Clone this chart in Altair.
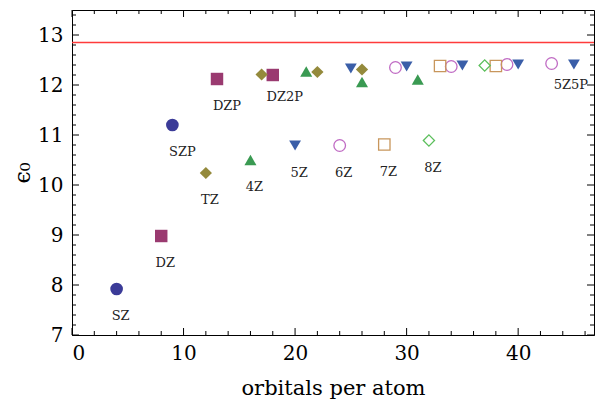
import altair as alt
import pandas as pd

# ---- data ----
family = ["SZ", "SZ",
          "DZ", "DZ", "DZ",
          "TZ", "TZ", "TZ", "TZ",
          "4Z", "4Z", "4Z", "4Z",
          "5Z", "5Z", "5Z", "5Z", "5Z", "5Z",
          "6Z", "6Z", "6Z", "6Z", "6Z",
          "7Z", "7Z", "7Z",
          "8Z", "8Z"]
orbitals = [4, 9,
            8, 13, 18,
            12, 17, 22, 26,
            16, 21, 26, 31,
            20, 25, 30, 35, 40, 45,
            24, 29, 34, 39, 43,
            28, 33, 38,
            32, 37]
eps0 = [7.92, 11.20,
        8.98, 12.12, 12.20,
        10.24, 12.21, 12.26, 12.31,
        10.50, 12.27, 12.06, 12.11,
        10.79, 12.33, 12.37, 12.39, 12.41, 12.41,
        10.79, 12.35, 12.37, 12.41, 12.43,
        10.81, 12.38, 12.38,
        10.89, 12.39]
labels = ["SZ", "SZP",
          "DZ", "DZP", "DZ2P",
          "TZ", "", "", "",
          "4Z", "", "", "",
          "5Z", "", "", "", "", "5Z5P",
          "6Z", "", "", "", "",
          "7Z", "", "",
          "8Z", ""]

families = ["SZ", "DZ", "TZ", "4Z", "5Z", "6Z", "7Z", "8Z"]
fam_colors = ["#3b3b98", "#9a3a70", "#948a3c", "#3a9a52",
              "#3a5ea8", "#c06cc4", "#c8965c", "#5cbf5c"]
fam_shapes = ["circle", "square", "diamond", "triangle-up",
              "triangle-down", "circle", "square", "diamond"]
fam_sizes = [160, 125, 140, 120, 120, 150, 120, 100]
open_families = ["6Z", "7Z", "8Z"]

reference_eps = 12.85

x_major = [0, 10, 20, 30, 40]
x_minor = [2, 4, 6, 8, 12, 14, 16, 18, 22, 24, 26, 28, 32, 34, 36, 38, 42, 44, 46]
y_major = [7, 8, 9, 10, 11, 12, 13]
y_minor = [7.2, 7.4, 7.6, 7.8, 8.2, 8.4, 8.6, 8.8, 9.2, 9.4, 9.6, 9.8,
           10.2, 10.4, 10.6, 10.8, 11.2, 11.4, 11.6, 11.8, 12.2, 12.4,
           12.6, 12.8, 13.2, 13.4]

W, H = 522, 325
FONT = "DejaVu Serif"

df = pd.DataFrame({"family": family, "orbitals": orbitals, "eps": eps0, "label": labels})

xs = alt.Scale(domain=[0, 46.8], nice=False, zero=False)
ys = alt.Scale(domain=[7, 13.5], nice=False, zero=False)
color_scale = alt.Scale(domain=families, range=fam_colors)
shape_scale = alt.Scale(domain=families, range=fam_shapes)
size_scale = alt.Scale(domain=families, range=fam_sizes)

x_axis = alt.Axis(values=x_major, ticks=False, grid=False, labelFontSize=20,
                  labelFont=FONT, labelPadding=8, titleFont=FONT, titleFontSize=21,
                  titleFontWeight="normal", titlePadding=14, labelColor="black",
                  titleColor="black", domainColor="black", format="d")
y_axis = alt.Axis(values=y_major, ticks=False, grid=False, labelFontSize=20,
                  labelFont=FONT, labelPadding=9, titleFont=FONT, titleFontSize=22,
                  titleFontWeight="normal", titlePadding=3, labelColor="black",
                  titleColor="black", domainColor="black", format="d")

base = alt.Chart(df)

filled = base.transform_filter(
    ~alt.FieldOneOfPredicate(field="family", oneOf=open_families)
).mark_point(filled=True, opacity=1).encode(
    x=alt.X("orbitals:Q", scale=xs, axis=x_axis, title="orbitals per atom"),
    y=alt.Y("eps:Q", scale=ys, axis=y_axis, title="ϵ₀"),
    color=alt.Color("family:N", scale=color_scale, legend=None),
    shape=alt.Shape("family:N", scale=shape_scale, legend=None),
    size=alt.Size("family:N", scale=size_scale, legend=None),
)

hollow = base.transform_filter(
    alt.FieldOneOfPredicate(field="family", oneOf=open_families)
).mark_point(filled=False, strokeWidth=1.3, opacity=1).encode(
    x=alt.X("orbitals:Q", scale=xs),
    y=alt.Y("eps:Q", scale=ys),
    color=alt.Color("family:N", scale=color_scale, legend=None),
    shape=alt.Shape("family:N", scale=shape_scale, legend=None),
    size=alt.Size("family:N", scale=size_scale, legend=None),
)

ref_line = alt.Chart(pd.DataFrame({"y": [reference_eps]})).mark_rule(
    color="#ff3b3b", strokeWidth=1.3
).encode(y=alt.Y("y:Q", scale=ys))

def text_layer(names, dx, dy):
    return base.transform_filter(
        alt.FieldOneOfPredicate(field="label", oneOf=names)
    ).mark_text(dx=dx, dy=dy, font=FONT, fontSize=13, color="#222222").encode(
        x=alt.X("orbitals:Q", scale=xs),
        y=alt.Y("eps:Q", scale=ys),
        text="label:N",
    )

txt_a = text_layer(["SZ", "DZ", "TZ", "4Z", "5Z", "6Z", "7Z", "8Z"], 4, 27)
txt_b = text_layer(["SZP", "DZP"], 10, 27)
txt_c = text_layer(["DZ2P"], 12, 22)
txt_d = text_layer(["5Z5P"], -3, 20)

def xticks(vals, length):
    d = alt.Chart(pd.DataFrame({"v": vals}))
    bot = d.mark_rule(color="black", strokeWidth=1).encode(
        x=alt.X("v:Q", scale=xs), y=alt.value(H), y2=alt.value(H - length))
    top = d.mark_rule(color="black", strokeWidth=1).encode(
        x=alt.X("v:Q", scale=xs), y=alt.value(0), y2=alt.value(length))
    return [bot, top]

def yticks(vals, length):
    d = alt.Chart(pd.DataFrame({"v": vals}))
    left = d.mark_rule(color="black", strokeWidth=1).encode(
        y=alt.Y("v:Q", scale=ys), x=alt.value(0), x2=alt.value(length))
    right = d.mark_rule(color="black", strokeWidth=1).encode(
        y=alt.Y("v:Q", scale=ys), x=alt.value(W), x2=alt.value(W - length))
    return [left, right]

tick_layers = xticks(x_major, 7) + xticks(x_minor, 4) + yticks(y_major, 7) + yticks(y_minor, 4)

chart = alt.layer(
    ref_line, *tick_layers, filled, hollow, txt_a, txt_b, txt_c, txt_d
).properties(
    width=W, height=H,
    autosize=alt.AutoSizeParams(type="none"),
    padding={"left": 64, "top": 2, "right": 1, "bottom": 66},
).configure_view(
    stroke="black", strokeWidth=1
).configure_axis(
    domainWidth=1
)

chart.save("out.html", embed_options={"renderer": "svg", "actions": False})
